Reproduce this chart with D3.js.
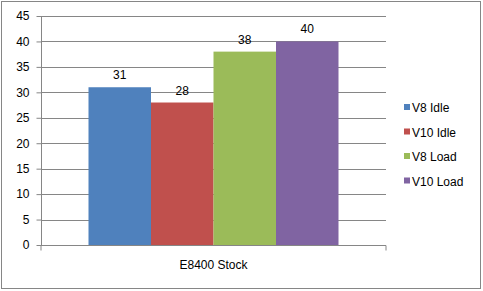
<!DOCTYPE html>
<html>
<head>
<meta charset="utf-8">
<script src="https://cdn.jsdelivr.net/npm/d3@7"></script>
<style>
  body { margin: 0; background: #fff; }
  text { font-family: "Liberation Sans", Arial, sans-serif; fill: #000; }
</style>
</head>
<body>
<div id="chart"></div>
<script>
// data
var categories = ["E8400 Stock"];
var seriesNames = ["V8 Idle", "V10 Idle", "V8 Load", "V10 Load"];
var seriesValues = [31, 28, 38, 40];
var seriesColors = ["#4f81bd", "#c0504d", "#9bbb59", "#8064a2"];
var yTicks = [0, 5, 10, 15, 20, 25, 30, 35, 40, 45];

var W = 483, H = 291;
var margin = {top: 16, right: 97, bottom: 46, left: 41},
    width = W - margin.left - margin.right,
    height = H - margin.top - margin.bottom;

var root = d3.select("#chart")
  .append("svg")
    .attr("width", W)
    .attr("height", H);

// outer border
root.append("rect")
  .attr("x", 1.5).attr("y", 1.5)
  .attr("width", W - 4).attr("height", H - 4)
  .attr("fill", "#fff")
  .attr("stroke", "#868686");

var svg = root.append("g")
  .attr("transform", "translate(" + margin.left + "," + margin.top + ")");

var y = d3.scaleLinear().domain([0, 45]).range([height, 0]);
var x0 = d3.scaleBand().domain(categories).range([0, width]).paddingInner(0).paddingOuter(0.19);
var x1 = d3.scaleBand().domain(seriesNames).range([0, x0.bandwidth()]).padding(0);

// gridlines
svg.append("g")
  .selectAll("line")
  .data(yTicks.slice(1))
  .enter().append("line")
    .attr("x1", 0).attr("x2", width)
    .attr("y1", function(d) { return Math.round(y(d)) + 0.5 })
    .attr("y2", function(d) { return Math.round(y(d)) + 0.5 })
    .attr("stroke", "#868686");

// bars
var g = svg.append("g")
  .attr("transform", "translate(" + x0(categories[0]) + ",0)");
g.selectAll("rect")
  .data(seriesValues)
  .enter().append("rect")
    .attr("x", function(d, i) { return x1(seriesNames[i]) })
    .attr("y", function(d) { return y(d) })
    .attr("width", x1.bandwidth())
    .attr("height", function(d) { return height - y(d) })
    .attr("fill", function(d, i) { return seriesColors[i] });

// value labels
g.selectAll("text.val")
  .data(seriesValues)
  .enter().append("text")
    .attr("class", "val")
    .attr("x", function(d, i) { return x1(seriesNames[i]) + x1.bandwidth() / 2 })
    .attr("y", function(d) { return y(d) - 8 })
    .attr("text-anchor", "middle")
    .style("font-size", "12px")
    .text(function(d) { return d });

// y axis
var yAxis = svg.append("g")
  .attr("transform", "translate(0.5,0)")
  .call(d3.axisLeft(y).tickValues(yTicks).tickSize(5).tickPadding(7));
yAxis.selectAll("path, line").attr("stroke", "#868686");
yAxis.selectAll("text").style("font-size", "12px").style("font-family", "Liberation Sans, Arial, sans-serif");
yAxis.select(".domain").attr("d", "M0," + height + "V0");

// x axis
var xAxis = svg.append("g")
  .attr("transform", "translate(0," + (Math.round(height) + 0.5) + ")")
  .call(d3.axisBottom(x0).tickSize(0).tickPadding(15));
xAxis.select(".domain").attr("stroke", "#868686").attr("d", "M0,5V0H" + width + "V5");
xAxis.selectAll("text").style("font-size", "12px").style("font-family", "Liberation Sans, Arial, sans-serif");

// legend
var legend = root.append("g").attr("transform", "translate(404,108)");
var items = legend.selectAll("g")
  .data(seriesNames)
  .enter().append("g")
    .attr("transform", function(d, i) { return "translate(0," + (i * 24.5) + ")" });
items.append("rect")
  .attr("x", 0).attr("y", -4)
  .attr("width", 6).attr("height", 6)
  .attr("fill", function(d, i) { return seriesColors[i] });
items.append("text")
  .attr("x", 8).attr("y", 4)
  .style("font-size", "12px")
  .text(function(d) { return d });
</script>
</body>
</html>
